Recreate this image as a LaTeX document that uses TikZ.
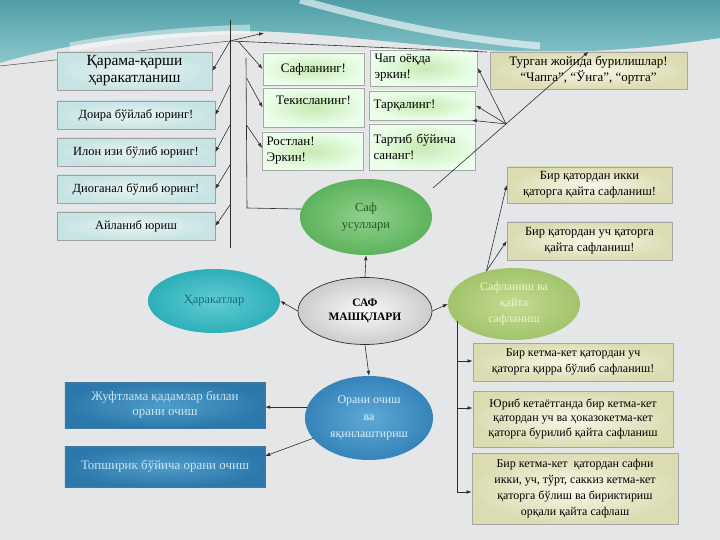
\documentclass[tikz,border=0pt]{standalone}
\usepackage{fontspec}
\setmainfont{Liberation Serif}
\usetikzlibrary{shapes.geometric,arrows.meta,calc}
\definecolor{bggray}{HTML}{E4E6E8}
\definecolor{tealtop}{HTML}{4F9EA7}
\definecolor{tealbot}{HTML}{8CC7CB}
\definecolor{lineclr}{HTML}{2E2E2E}
\definecolor{suin}{HTML}{92D08C}
\definecolor{suout}{HTML}{5DB35C}
\definecolor{sutext}{HTML}{1F5A1F}
\definecolor{hain}{HTML}{62CCD3}
\definecolor{haout}{HTML}{2DAFB9}
\definecolor{hatext}{HTML}{176C78}
\definecolor{sfin}{HTML}{C4DA90}
\definecolor{sfout}{HTML}{A2C46C}
\definecolor{sftext}{HTML}{ECF3CC}
\definecolor{orin}{HTML}{5EA9D5}
\definecolor{orout}{HTML}{3584BA}
\definecolor{ortext}{HTML}{DDEFF8}
\definecolor{bbin}{HTML}{4F9DC9}
\definecolor{bbout}{HTML}{2C78AC}
\definecolor{bbtext}{HTML}{C9E4F2}
\begin{document}
\begin{tikzpicture}[x=1bp,y=-1bp,
  arr/.style={draw=lineclr, line width=0.6pt, -{Latex[length=5pt,width=3.6pt]}},
  ln/.style={draw=lineclr, line width=0.6pt},
  lbox/.style={draw=gray!75, line width=0.7pt, inner color=white!80!teal!40!white, outer color=teal!22!white, minimum height=28bp, minimum width=158bp, inner sep=2bp, align=center, font=\fontsize{12.5}{15}\selectfont},
  mbox/.style={draw=gray!70, line width=0.7pt, inner color=green!45!olive!30!white, outer color=white!92!green, inner sep=4bp, align=left, font=\fontsize{13}{16}\selectfont},
  rbox/.style={draw=gray!70, line width=0.7pt, inner color=white!94!olive, outer color=olive!18!white!88!gray, inner sep=2bp, align=center},
  bbox/.style={inner color=bbin, outer color=bbout, draw=bbout!70!gray, line width=0.5pt, minimum width=200bp, align=center, text=bbtext, font=\fontsize{13}{15}\selectfont},
  ell/.style={ellipse, inner sep=0pt, align=center}
]
\useasboundingbox (0,0) rectangle (720,540);
% background
\fill[bggray] (0,0) rectangle (720,540);
\shade[top color=tealtop, bottom color=tealbot] (0,0) -- (720,0) -- (720,38)
  .. controls (640,50) and (560,56) .. (470,49)
  .. controls (380,42) and (300,30) .. (230,31)
  .. controls (140,33) and (60,45) .. (0,63) -- cycle;
\draw[white, opacity=0.6, line width=7bp] (300,0) .. controls (380,22) and (450,38) .. (540,46);
\draw[white, opacity=0.45, line width=9bp] (70,47) .. controls (130,36) and (190,31) .. (250,29);

% background thin line (behind boxes)
\coordinate (lft) at (0,66);
\coordinate (j0) at (230,41);
\draw[ln, line width=0.5pt, draw=gray!60!black] (lft) -- (j0);

% ---------- left column ----------
\node[lbox, minimum width=155bp, minimum height=38bp, font=\fontsize{15.5}{17}\selectfont] (qarama) at (134.5,71) {Қарама-қарши\\ҳаракатланиш};
\node[lbox] (doira) at (136,115) {Доира бўйлаб юринг!};
\node[lbox] (ilon) at (136,152) {Илон изи бўлиб юринг!};
\node[lbox] (diog) at (136,189) {Диоганал бўлиб юринг!};
\node[lbox] (aylan) at (136,226) {Айланиб юриш};

% ---------- middle boxes ----------
\node[mbox, align=center, minimum width=101bp, minimum height=32bp] (saflan) at (313.5,69) {Сафланинг!};
\node[mbox, align=center, minimum width=101bp, minimum height=39bp] (tekis) at (313.5,107.5) {Текисланинг!\\[-2pt]\mbox{}};
\node[mbox, text width=93bp, minimum height=38bp] (rostlan) at (313,151) {Ростлан!\\Эркин!};
\node[mbox, text width=99bp, minimum height=36bp] (chap) at (424,68) {Чап оёқда\\эркин!};
\node[mbox, text width=98bp, minimum height=29bp] (tarq) at (422.5,105.5) {Тарқалинг!};
\node[mbox, text width=98bp, minimum height=46bp] (tartib) at (422.5,147) {Тартиб бўйича\\сананг!};
\node[rbox, minimum width=197bp, minimum height=37bp, font=\fontsize{13}{16.5}\selectfont] (turgan) at (588.5,70.5) {Турган жойида бурилишлар!\\“Чапга”, “Ўнга”, “ортга”};

% ---------- right boxes ----------
\node[rbox, minimum width=165bp, minimum height=36bp, font=\fontsize{12.5}{16.5}\selectfont] (ikki) at (589.5,185) {Бир қатордан икки\\қаторга қайта сафланиш!};
\node[rbox, minimum width=165bp, minimum height=38bp, font=\fontsize{12.5}{16.5}\selectfont] (uchq) at (589.5,241) {Бир қатордан уч қаторга\\қайта сафланиш!};
\node[rbox, minimum width=200bp, minimum height=38bp, font=\fontsize{12}{16.5}\selectfont] (kirra) at (573,362) {Бир кетма-кет қатордан уч\\қаторга қирра бўлиб сафланиш!};
\node[rbox, minimum width=200bp, minimum height=56bp, font=\fontsize{12}{15}\selectfont] (yurib) at (573,419) {Юриб кетаётганда бир кетма-кет\\қатордан уч ва ҳоказокетма-кет\\қаторга бурилиб қайта сафланиш};
\node[rbox, minimum width=206bp, minimum height=71bp, font=\fontsize{12}{16}\selectfont] (ketma) at (575,488.5) {Бир кетма-кет\ \ қатордан сафни\\икки, уч, тўрт, саккиз кетма-кет\\қаторга бўлиш ва бириктириш\\орқали қайта сафлаш};

% ---------- blue boxes ----------
\node[bbox, minimum height=46bp] (juft) at (165,405) {Жуфтлама қадамлар билан\\орани очиш};
\node[bbox, minimum height=41bp] (topsh) at (165,466.5) {Топширик бўйича орани очиш};

% ---------- ellipses ----------
\node[ell, minimum width=132bp, minimum height=76bp, inner color=suin, outer color=suout, text=sutext, font=\fontsize{12.5}{17}\selectfont] (safusul) at (366,217) {Саф\\усуллари};
\node[ell, minimum width=132bp, minimum height=64bp, inner color=hain, outer color=haout, text=hatext, font=\fontsize{12.5}{15}\selectfont] (harak) at (214,301) {Ҳаракатлар};
\node[ell, draw=lineclr, line width=0.7pt, minimum width=134bp, minimum height=67bp, inner color=white!96!gray, outer color=gray!40!white, font=\bfseries\fontsize{11.5}{14}\selectfont] (mainn) at (365,311) {САФ\\МАШҚЛАРИ};
\node[ell, minimum width=132bp, minimum height=72bp, inner color=sfin, outer color=sfout, text=sftext, font=\fontsize{12}{16}\selectfont] (saflanish) at (514,304) {Сафланиш ва\\қайта\\сафланиш};
\node[ell, minimum width=128bp, minimum height=84bp, inner color=orin, outer color=orout, text=ortext, font=\fontsize{12}{17}\selectfont] (orani) at (369,418) {Орани очиш\\ва\\яқинлаштириш};

% ---------- connectors: left vertical line ----------
\coordinate (vtop) at (230,20);
\coordinate (vbot) at (230,248);
\draw[ln] (vtop) -- (vbot);
\coordinate (va) at (230,85);
\coordinate (vb) at (230,125);
\coordinate (vc) at (230,165);
\coordinate (vd) at (230,205);
\draw[arr] (j0) -- (qarama.east);
\draw[arr] (va) -- (doira.east);
\draw[arr] (vb) -- (ilon.east);
\draw[arr] (vc) -- (diog.east);
\draw[arr] (vd) -- (aylan.east);
\coordinate (t1) at (264,33);
\draw[arr] (j0) -- (t1);
\coordinate (c487) at (487,52);
\draw[ln] (j0) -- (c487);
\coordinate (j1) at (238,41);
\draw[arr] (j1) -- (saflan.west);

% second vertical line from Саф усуллари
\coordinate (v2top) at (246,58);
\coordinate (v2bot) at (247,208);
\draw[ln] (safusul.173) -- (v2bot) -- (v2top);
\coordinate (v2a) at (246.5,78);
\coordinate (v2b) at (246.5,125);
\draw[arr] (v2a) -- (tekis.west);
\draw[arr] (v2b) -- ($(rostlan.west)+(0,-3)$);

% diagonal to Турган жойида
\coordinate (d0) at (433,188);
\draw[arr] (d0) -- (turgan.north);
\coordinate (d2) at ($(d0)!0.47!(turgan.north)$);
\draw[arr] (d2) -- (chap.east);
\draw[arr] (d2) -- (tarq.east);
\draw[arr] (d2) -- ($(tarq.south east)+(-4,0)$);

% main ellipse connections
\draw[arr] (mainn.north) -- (safusul.south);
\draw[arr] (mainn.west) -- (harak.east);
\draw[arr] (mainn.east) -- (saflanish.west);
\draw[arr] (mainn.south) -- (orani.north);

% Сафланиш ва қайта сафланиш
\draw[arr] (saflanish.130) -- (ikki.west);
\draw[arr] (saflanish.130) -- (uchq.west);
\coordinate (v3top) at (457,321);
\coordinate (v3a) at (457,361);
\coordinate (v3b) at (457,408);
\coordinate (v3c) at (457,492);
\draw[ln] (v3top) -- (v3c);
\draw[arr] (v3a) -- (v3a -| kirra.west);
\draw[arr] (v3b) -- (v3b -| yurib.west);
\draw[arr] (v3c) -- (v3c -| ketma.west);

% Орани очиш
\draw[arr] (orani.170) -- (orani.170 -| juft.east);
\draw[arr] (orani.200) -- (topsh.6);
\end{tikzpicture}
\end{document}
